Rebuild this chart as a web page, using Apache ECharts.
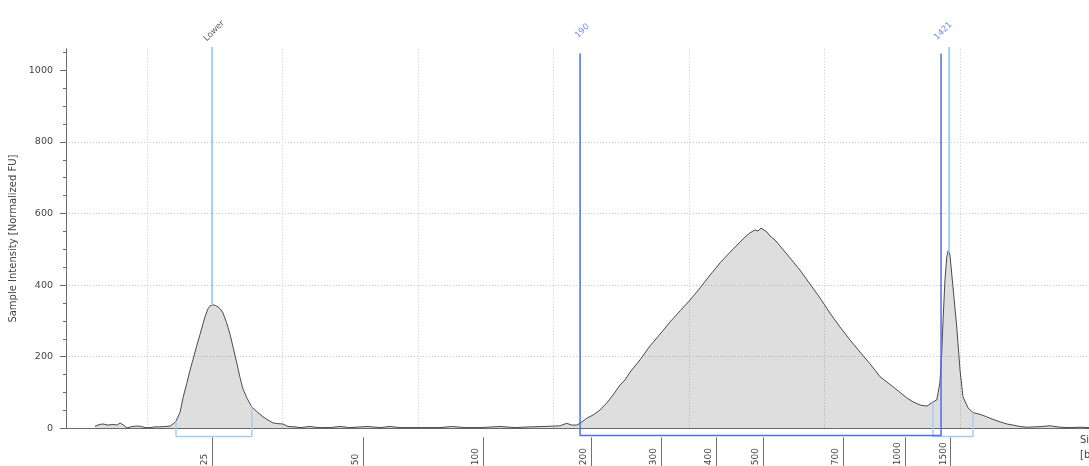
<!DOCTYPE html>
<html>
<head>
<meta charset="utf-8">
<script src="https://cdn.jsdelivr.net/npm/echarts@6/dist/echarts.min.js"></script>
<style>
  html, body { margin: 0; padding: 0; background: #ffffff; }
  #chart { width: 1089px; height: 466px; }
</style>
</head>
<body>
<div id="chart"></div>
<script>
// Electropherogram trace: run position and sample intensity (normalized FU)
const tracePos = [
  61.6, 65.3, 67.5, 71.2, 74.9, 77.9, 80.1, 83.0, 85.2, 88.9, 91.9, 94.8, 98.5, 102.2, 105.9, 109.6,
  113.3, 117.0, 119.2, 121.4, 124.4, 126.6, 129.3, 131.7, 133.9, 136.5, 139.1, 141.3, 142.8, 145.0,
  146.9, 148.7, 150.6, 152.4, 154.2, 156.1, 158.7, 161.3, 163.8, 166.4, 168.6, 170.8, 173.8, 177.3,
  181.2, 185.6, 189.3, 193.0, 196.7, 200.4, 204.1, 209.2, 212.9, 220.3, 226.2, 235.1, 242.4, 249.8,
  262.4, 272.0, 279.3, 286.7, 301.5, 316.2, 324.9, 334.7, 345.8, 360.5, 371.6, 382.7, 392.2, 398.9,
  404.8, 409.7, 413.4, 417.1, 419.6, 424.5, 429.1, 434.3, 439.3, 443.9, 449.1, 452.8, 456.5, 463.8,
  471.2, 478.6, 486.0, 493.4, 500.7, 508.1, 515.5, 522.9, 530.3, 537.6, 541.3, 545.0, 548.7, 550.9,
  553.1, 555.3, 557.6, 559.8, 563.5, 567.2, 574.5, 581.9, 589.3, 596.7, 604.0, 611.4, 618.8, 626.2,
  633.6, 641.0, 650.6, 660.7, 665.3, 670.5, 675.6, 680.1, 682.8, 683.8, 685.2, 686.5, 687.5, 688.9,
  690.2, 691.4, 692.6, 694.8, 697.6, 700.0, 702.2, 705.9, 709.6, 714.8, 719.7, 724.3, 729.5, 734.7,
  739.1, 744.3, 749.2, 755.3, 760.5, 766.4, 770.1, 773.8, 781.2, 788.6, 795.2
];
const traceFU = [
  6, 11, 12, 9, 11, 9, 15, 8, 1, 5, 6, 6, 2, 2, 4, 4,
  5, 6, 12, 20, 45, 86, 125, 162, 192, 228, 262, 292, 312, 334,
  343, 345, 343, 339, 333, 322, 295, 262, 222, 180, 142, 110, 84, 60,
  46, 32, 23, 15, 13, 12, 5, 4, 2, 5, 2, 2, 5, 2,
  5, 2, 5, 2, 2, 2, 5, 2, 2, 5, 2, 4, 5, 6,
  7, 14, 9, 9, 14, 28, 37, 51, 71, 93, 121, 135, 157, 191,
  230, 263, 297, 328, 358, 392, 428, 462, 492, 520, 534, 546, 554, 551,
  559, 554, 548, 537, 526, 509, 476, 442, 403, 364, 322, 283, 247, 213,
  180, 144, 116, 85, 74, 65, 62, 74, 79, 99, 129, 210, 303, 414,
  478, 498, 484, 395, 283, 163, 88, 57, 44, 39, 32, 25, 18, 12,
  9, 5, 3, 4, 5, 7, 5, 3, 2, 3, 2
];

// Size ladder: run position of each ladder fragment and its size in bp
const ladderPos = [148.0, 259.4, 348.0, 427.7, 479.3, 519.9, 554.6, 613.7, 659.4, 693.0];
const ladderBp = ['25', '50', '100', '200', '300', '400', '500', '700', '1000', '1500'];

// Intensity axis ticks
const yLabelTicks = [0, 200, 400, 600, 800, 1000];
const yMinorTicks = [0, 50, 100, 150, 200, 250, 300, 350, 400, 450, 500, 550, 600, 650, 700, 750,
  800, 850, 900, 950, 1000, 1050];

// Lower / upper marker peaks and their integration ranges
const lowerMarker = { pos: 148.0, label: 'Lower', range: [121.4, 177.3] };
const upperMarker = { pos: 692.0, range: [680.1, 709.6] };

// Region of interest (bp labels at both edges)
const regionRange = [419.6, 686.0];
const regionLabels = ['190', '1421'];

const FONT = 'DejaVu Sans';
const lightBlue = '#a6cdf5';
const regionBlue = '#4e70e2';
const axisGray = '#6b6b6b';
const textGray = '#444444';

const xMin = 40.2, xMax = 795.2;
const yMin = 0, yMax = 1060;
const markerTop = 1065;
const regionTop = 1047;
const labelLevel = 1104;
const regionDepth = -20;
const peakDepth = -23;

function curveAt(u) {
  for (let i = 1; i < tracePos.length; i++) {
    if (u <= tracePos[i]) {
      const t = (u - tracePos[i - 1]) / (tracePos[i] - tracePos[i - 1]);
      return traceFU[i - 1] + t * (traceFU[i] - traceFU[i - 1]);
    }
  }
  return traceFU[traceFU.length - 1];
}

function pathSeries(points, color, width) {
  return {
    type: 'line', data: points, symbol: 'none', clip: false, silent: true,
    lineStyle: { color: color, width: width }, z: 3, animation: false,
    xAxisIndex: 0, yAxisIndex: 0
  };
}

const traceData = tracePos.map((p, i) => [p, traceFU[i]]);

const bracket = (r, depth) => [[r[0], curveAt(r[0])], [r[0], depth], [r[1], depth], [r[1], curveAt(r[1])]];

const chart = echarts.init(document.getElementById('chart'), null, { renderer: 'canvas' });

chart.setOption({
  animation: false,
  backgroundColor: '#ffffff',
  grid: { left: 66, right: 0, top: 48.8, bottom: 37.7, containLabel: false, outerBoundsMode: 'none' },
  xAxis: [
    {
      type: 'value', min: xMin, max: xMax, position: 'bottom',
      name: 'Size\n[bp]', nameLocation: 'end', nameGap: -9,
      nameTextStyle: { fontFamily: FONT, fontSize: 10, color: textGray, align: 'left', verticalAlign: 'top',
        lineHeight: 15, padding: [5, 0, 0, 0] },
      axisLine: { show: true, onZero: false, lineStyle: { color: axisGray, width: 1 } },
      axisTick: { show: false }, axisLabel: { show: false }, splitLine: { show: false }
    },
    {
      type: 'value', min: xMin, max: xMax, position: 'top', splitNumber: 8,
      axisLine: { show: false }, axisTick: { show: false }, axisLabel: { show: false },
      splitLine: { show: true, showMinLine: false, showMaxLine: false,
        lineStyle: { color: '#c9c9c9', width: 1, type: [1, 2] } }
    },
    {
      type: 'value', min: xMin, max: xMax, position: 'bottom', offset: 9,
      axisLine: { show: false, onZero: false },
      axisTick: { show: true, length: 30, customValues: ladderPos, lineStyle: { color: '#707070', width: 1 } },
      axisLabel: {
        show: true, customValues: ladderPos, rotate: 90, margin: 28,
        align: 'left', verticalAlign: 'bottom', lineHeight: 14,
        fontFamily: FONT, fontSize: 9, color: textGray,
        formatter: function (v) {
          let best = 0;
          ladderPos.forEach((p, i) => { if (Math.abs(p - v) < Math.abs(ladderPos[best] - v)) best = i; });
          return ladderBp[best];
        }
      },
      splitLine: { show: false }
    }
  ],
  yAxis: [
    {
      type: 'value', min: yMin, max: yMax, interval: 200, position: 'left',
      name: 'Sample Intensity [Normalized FU]', nameLocation: 'middle', nameGap: 46,
      nameTextStyle: { fontFamily: FONT, fontSize: 10, color: textGray },
      axisLine: { show: true, lineStyle: { color: axisGray, width: 1 } },
      axisTick: { show: true, length: 6, customValues: yLabelTicks, lineStyle: { color: axisGray } },
      axisLabel: { show: true, customValues: yLabelTicks, margin: 13, fontFamily: FONT, fontSize: 9.5,
        color: textGray, formatter: function (v) { return String(v); } },
      splitLine: { show: true, showMinLine: false, showMaxLine: false,
        lineStyle: { color: '#c9c9c9', width: 1, type: [1, 2] } }
    },
    {
      type: 'value', min: yMin, max: yMax, position: 'left',
      axisLine: { show: false },
      axisTick: { show: true, length: 3, customValues: yMinorTicks, lineStyle: { color: axisGray } },
      axisLabel: { show: false }, splitLine: { show: false }
    }
  ],
  series: [
    {
      name: 'Sample', type: 'line', data: traceData, xAxisIndex: 0, yAxisIndex: 0,
      symbol: 'none', smooth: false, z: 2,
      lineStyle: { color: '#4a4a4a', width: 1 },
      areaStyle: { color: 'rgba(0,0,0,0.13)', opacity: 1, origin: 'start' }
    },
    pathSeries([[lowerMarker.pos, markerTop], [lowerMarker.pos, curveAt(lowerMarker.pos)]], lightBlue, 2),
    pathSeries([[upperMarker.pos, markerTop], [upperMarker.pos, curveAt(upperMarker.pos)]], lightBlue, 2),
    pathSeries(bracket(lowerMarker.range, peakDepth), lightBlue, 1.5),
    pathSeries(bracket(upperMarker.range, peakDepth), lightBlue, 1.5),
    pathSeries([[regionRange[0], regionTop], [regionRange[0], regionDepth],
      [regionRange[1], regionDepth], [regionRange[1], regionTop]], regionBlue, 1.5),
    {
      type: 'scatter', xAxisIndex: 0, yAxisIndex: 0, clip: false, silent: true, z: 4,
      symbol: 'circle', symbolSize: 1, itemStyle: { color: 'rgba(0,0,0,0)' },
      label: { show: true, position: 'inside', rotate: 45, offset: [3, 0],
        fontFamily: FONT, fontSize: 8.5, align: 'center', verticalAlign: 'middle' },
      data: [
        { value: [lowerMarker.pos, labelLevel], label: { formatter: lowerMarker.label, color: '#333333' } },
        { value: [regionRange[0], labelLevel], label: { formatter: regionLabels[0], color: regionBlue } },
        { value: [regionRange[1], labelLevel], label: { formatter: regionLabels[1], color: regionBlue } }
      ]
    }
  ]
});
</script>
</body>
</html>
